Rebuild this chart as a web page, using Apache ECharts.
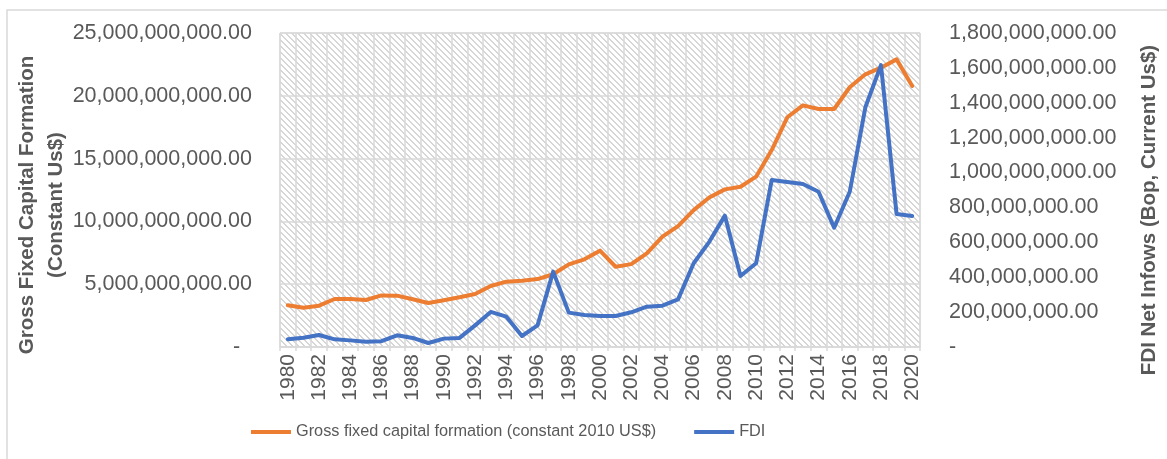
<!DOCTYPE html>
<html>
<head>
<meta charset="utf-8">
<script src="https://cdn.jsdelivr.net/npm/echarts@6/dist/echarts.min.js"></script>
<style>
html,body{margin:0;padding:0;background:#fff;}
#chart{width:1167px;height:459px;}
</style>
</head>
<body>
<div id="chart"></div>
<script>
// ---- data ----
const years = [];
for (let y = 1980; y <= 2020; y++) years.push(String(y));

const gfcf = [3.32e9, 3.13e9, 3.29e9, 3.82e9, 3.82e9, 3.74e9, 4.11e9, 4.09e9, 3.80e9, 3.50e9,
  3.72e9, 3.96e9, 4.22e9, 4.86e9, 5.20e9, 5.28e9, 5.41e9, 5.79e9, 6.58e9, 6.98e9,
  7.67e9, 6.39e9, 6.60e9, 7.46e9, 8.78e9, 9.63e9, 10.90e9, 11.90e9, 12.55e9, 12.76e9,
  13.56e9, 15.68e9, 18.29e9, 19.24e9, 18.95e9, 18.95e9, 20.68e9, 21.71e9, 22.24e9, 22.90e9,
  20.78e9];

const fdi = [44e6, 53e6, 69e6, 44e6, 38e6, 30e6, 33e6, 67e6, 52e6, 23e6,
  48e6, 52e6, 124e6, 201e6, 174e6, 63e6, 124e6, 432e6, 197e6, 183e6,
  178e6, 178e6, 199e6, 231e6, 237e6, 273e6, 480e6, 603e6, 753e6, 407e6,
  480e6, 957e6, 946e6, 934e6, 890e6, 684e6, 890e6, 1374e6, 1616e6, 762e6,
  751e6];

const seriesNames = ['Gross fixed capital formation (constant 2010 US$)', 'FDI'];
const leftTitle = ['Gross Fixed Capital Formation', '(Constant Us$)'];
const rightTitle = 'FDI Net Infows (Bop, Current Us$)';

// ---- styles ----
const FONT = 'Liberation Sans';
const TXT = '#595959';
const GRID = '#d9d9d9';

function fmt(v, left) {
  if (v === 0) return left ? '-  ' : '-';
  return v.toLocaleString('en-US', {minimumFractionDigits: 2, maximumFractionDigits: 2});
}

// hatch pattern
const pc = document.createElement('canvas');
pc.width = 6; pc.height = 6;
const pctx = pc.getContext('2d');
pctx.fillStyle = '#ffffff';
pctx.fillRect(0, 0, 6, 6);
pctx.fillStyle = '#d6d6d6';
for (let y = 0; y < 6; y++) {
  for (let x = 0; x < 6; x++) {
    if (((x - y) % 6 + 6) % 6 < 2) pctx.fillRect(x, y, 1, 1);
  }
}

const chart = echarts.init(document.getElementById('chart'), null, {renderer: 'canvas'});
chart.setOption({
  animation: false,
  backgroundColor: '#ffffff',
  textStyle: {fontFamily: FONT},
  grid: {
    left: 280, right: 247, top: 33, bottom: 112,
    show: true,
    backgroundColor: {image: pc, repeat: 'repeat'},
    borderColor: GRID, borderWidth: 1
  },
  legend: {
    left: 246, top: 419,
    itemWidth: 40, itemHeight: 4, itemGap: 38,
    icon: 'rect',
    textStyle: {fontFamily: FONT, fontSize: 16.3, color: TXT},
    data: seriesNames
  },
  xAxis: {
    type: 'category',
    data: years,
    boundaryGap: true,
    axisLine: {show: true, lineStyle: {color: GRID, width: 1.5}},
    axisTick: {show: true, interval: 0, length: 4, lineStyle: {color: GRID, width: 1.5}},
    splitLine: {show: true, interval: 0, lineStyle: {color: GRID, width: 1.5}},
    axisLabel: {interval: 1, rotate: 90, margin: 7, fontFamily: FONT, fontSize: 21, color: TXT}
  },
  yAxis: [
    {
      type: 'value', min: 0, max: 25e9, interval: 5e9, position: 'left',
      axisLine: {show: false}, axisTick: {show: false},
      splitLine: {show: true, lineStyle: {color: GRID, width: 1.5}},
      axisLabel: {margin: 28, fontFamily: FONT, fontSize: 21.5, color: TXT, formatter: v => fmt(v, true)}
    },
    {
      type: 'value', min: 0, max: 1.8e9, interval: 2e8, position: 'right',
      axisLine: {show: false}, axisTick: {show: false},
      splitLine: {show: false},
      axisLabel: {margin: 29, fontFamily: FONT, fontSize: 21.5, color: TXT, formatter: v => fmt(v, false)}
    }
  ],
  series: [
    {
      name: seriesNames[0], type: 'line', yAxisIndex: 0, data: gfcf,
      showSymbol: false, symbol: 'none',
      lineStyle: {color: '#ED7D31', width: 4, join: 'round', cap: 'round'},
      itemStyle: {color: '#ED7D31'}
    },
    {
      name: seriesNames[1], type: 'line', yAxisIndex: 1, data: fdi,
      showSymbol: false, symbol: 'none',
      lineStyle: {color: '#4472C4', width: 4, join: 'round', cap: 'round'},
      itemStyle: {color: '#4472C4'}
    }
  ],
  graphic: [
    {type: 'rect', silent: true, shape: {x: 7, y: 10, width: 1300, height: 600},
     style: {fill: 'none', stroke: GRID, lineWidth: 1.5}, z: -1},
    {type: 'text', x: 27, y: 205, rotation: Math.PI / 2,
     style: {text: leftTitle[0], fontFamily: FONT, fontWeight: 'bold', fontSize: 20.5, fill: TXT, align: 'center', verticalAlign: 'middle'}},
    {type: 'text', x: 56, y: 205, rotation: Math.PI / 2,
     style: {text: leftTitle[1], fontFamily: FONT, fontWeight: 'bold', fontSize: 20.5, fill: TXT, align: 'center', verticalAlign: 'middle'}},
    {type: 'text', x: 1149, y: 210, rotation: Math.PI / 2,
     style: {text: rightTitle, fontFamily: FONT, fontWeight: 'bold', fontSize: 20.5, fill: TXT, align: 'center', verticalAlign: 'middle'}}
  ]
});
</script>
</body>
</html>
